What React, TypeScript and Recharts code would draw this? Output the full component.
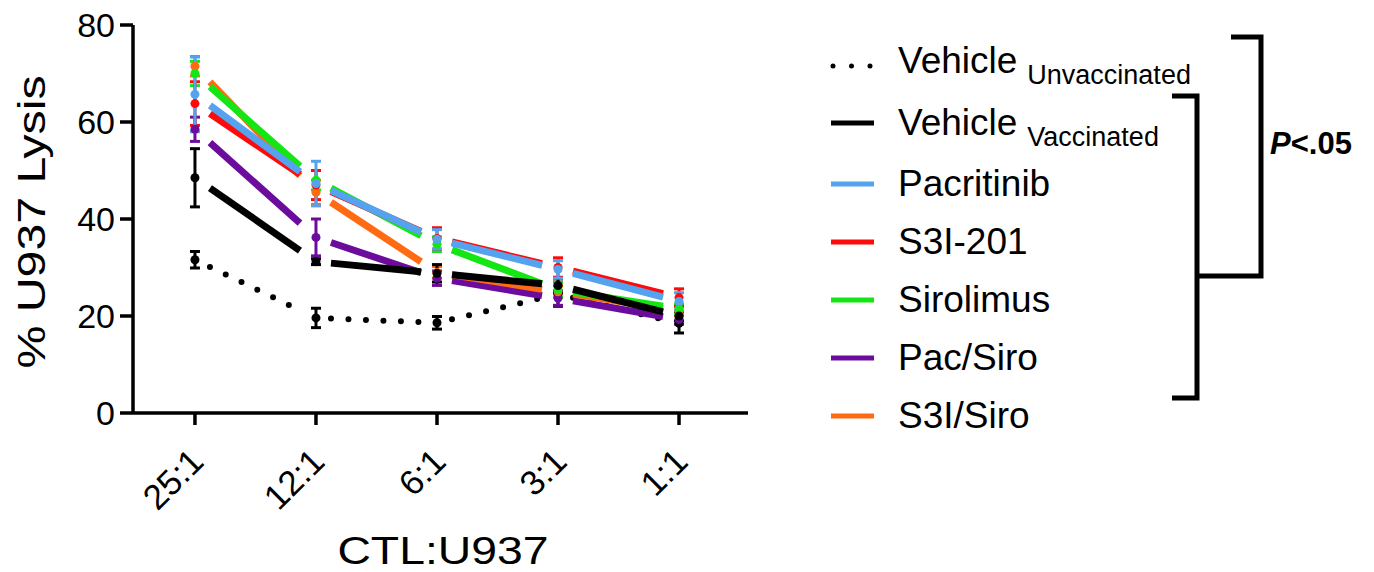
import { LineChart, Line, XAxis, YAxis, ErrorBar } from "recharts";

const FONT = "'Liberation Sans', Arial, Helvetica, sans-serif";

const categories = ["25:1", "12:1", "6:1", "3:1", "1:1"];
const yTicks = [0, 20, 40, 60, 80];

const vehicleUnvaccinated = [31.6, 19.6, 18.6, 24.5, 18.5];
const vehicleUnvaccinatedErr = [1.7, 2, 1.3, 2.5, 2];
const vehicleVaccinated = [48.5, 31.2, 28.8, 26.3, 20];
const vehicleVaccinatedErr = [6, 0.6, 1.8, 1.5, 1];
const pacritinib = [65.7, 47.3, 35.8, 29.6, 23];
const pacritinibErr = [7.7, 4.6, 2, 1.8, 1.8];
const s3i201 = [63.8, 47, 36, 30, 23.8];
const s3i201Err = [4.5, 3, 2.2, 2, 1.8];
const sirolimus = [70, 48, 34.8, 25.4, 21.5];
const sirolimusErr = [2.5, 2, 1.5, 1.5, 1];
const pacSiro = [58.5, 36.2, 27.8, 23.7, 19.3];
const pacSiroErr = [2.5, 3.8, 1.5, 1.5, 1];
const s3iSiro = [71.5, 45.5, 29, 25, 21];
const s3iSiroErr = [2, 2.5, 1.2, 1.2, 1];

const chartData = categories.map((label, i) => ({
  x: i,
  label,
  unvac: vehicleUnvaccinated[i],
  unvacErr: vehicleUnvaccinatedErr[i],
  vac: vehicleVaccinated[i],
  vacErr: vehicleVaccinatedErr[i],
  pac: pacritinib[i],
  pacErr: pacritinibErr[i],
  s3i: s3i201[i],
  s3iErr: s3i201Err[i],
  siro: sirolimus[i],
  siroErr: sirolimusErr[i],
  pacSiro: pacSiro[i],
  pacSiroErr: pacSiroErr[i],
  s3iSiro: s3iSiro[i],
  s3iSiroErr: s3iSiroErr[i],
}));

// drawing order: last one ends up on top
const series = [
  { key: "unvac", color: "#000000", dotted: true },
  { key: "pacSiro", color: "#6c0c9c" },
  { key: "s3iSiro", color: "#ff6a12" },
  { key: "siro", color: "#14e614" },
  { key: "vac", color: "#000000" },
  { key: "s3i", color: "#ff0a0a" },
  { key: "pac", color: "#55a2ee" },
];

const legendRows = [
  { name: "Vehicle", sub: "Unvaccinated", color: "#000000", dotted: true },
  { name: "Vehicle", sub: "Vaccinated", color: "#000000" },
  { name: "Pacritinib", color: "#55a2ee" },
  { name: "S3I-201", color: "#ff0a0a" },
  { name: "Sirolimus", color: "#14e614" },
  { name: "Pac/Siro", color: "#6c0c9c" },
  { name: "S3I/Siro", color: "#ff6a12" },
];

// Prism-style segments: line stops short of each point
const GAP_START = 15;
const GAP_END = 16;

function makeDot(seriesKey: string, color: string, dotted?: boolean) {
  return (props: any) => {
    const { cx, cy, index, points } = props;
    const next = points && points[index + 1];
    let seg = null;
    if (next && cx != null && cy != null) {
      const dx = next.x - cx;
      const dy = next.y - cy;
      const t0 = GAP_START / dx;
      const t1 = 1 - GAP_END / dx;
      seg = (
        <line
          x1={cx + dx * t0}
          y1={cy + dy * t0}
          x2={cx + dx * t1}
          y2={cy + dy * t1}
          stroke={color}
          strokeWidth={dotted ? 6 : 7}
          strokeDasharray={dotted ? "0 17.5" : undefined}
          strokeLinecap={dotted ? "round" : "butt"}
        />
      );
    }
    return (
      <g key={`${seriesKey}-${index}`}>
        {seg}
        <circle cx={cx} cy={cy} r={4.5} fill={color} />
      </g>
    );
  };
}

function XTick({ x, y, payload }: any) {
  return (
    <g transform={`translate(${x + 2},${y + 30})`}>
      <text
        textAnchor="end"
        dy="0.35em"
        transform="rotate(-45)"
        fontSize={35}
        fontFamily={FONT}
        fill="#000"
      >
        {categories[payload.value]}
      </text>
    </g>
  );
}

function Overlay() {
  const baselines = [73, 135, 196, 254, 312, 370, 428];
  return (
    <svg
      width={1374}
      height={572}
      style={{ position: "absolute", left: 0, top: 0, pointerEvents: "none" }}
      fontFamily={FONT}
    >
      <text
        transform="translate(45,222) rotate(-90) scale(1.27,1)"
        textAnchor="middle"
        fontSize={38}
        fill="#000"
      >
        % U937 Lysis
      </text>
      <text
        transform="translate(443,564) scale(1.22,1)"
        textAnchor="middle"
        fontSize={38}
        fill="#000"
      >
        CTL:U937
      </text>

      {legendRows.map((row, i) => {
        const base = baselines[i];
        return (
          <g key={i}>
            {row.dotted ? (
              <line
                x1={833}
                x2={871}
                y1={base - 7}
                y2={base - 7}
                stroke={row.color}
                strokeWidth={5}
                strokeDasharray="0 18.5"
                strokeLinecap="round"
              />
            ) : (
              <line
                x1={831}
                x2={874}
                y1={base - 12}
                y2={base - 12}
                stroke={row.color}
                strokeWidth={5}
              />
            )}
            <text x={898} y={base} fontSize={37} fill="#000">
              {row.name}
              {row.sub && (
                <tspan dx={10} dy={11} fontSize={27}>
                  {row.sub}
                </tspan>
              )}
            </text>
          </g>
        );
      })}

      <g fill="none" stroke="#000" strokeWidth={5}>
        <polyline points="1231,37 1261,37 1261,276 1197,276" />
        <polyline points="1172,96 1197,96 1197,398 1172,398" />
      </g>
      <text x={1270} y={154} fontSize={31} fontWeight="bold" fill="#000">
        <tspan fontStyle="italic">P</tspan>&lt;.05
      </text>
    </svg>
  );
}

export default function App() {
  return (
    <div
      style={{
        position: "relative",
        width: 1374,
        height: 572,
        margin: -8,
        background: "#fff",
        fontFamily: FONT,
      }}
    >
      <LineChart
        width={760}
        height={572}
        data={chartData}
        margin={{ top: 25, right: 12, bottom: 0, left: 0 }}
      >
        <XAxis
          type="number"
          dataKey="x"
          domain={[-0.512, 4.57]}
          ticks={[0, 1, 2, 3, 4]}
          height={159}
          tickSize={12}
          tickMargin={0}
          axisLine={{ stroke: "#000", strokeWidth: 3.5 }}
          tickLine={{ stroke: "#000", strokeWidth: 3.5 }}
          tick={<XTick />}
          interval={0}
        />
        <YAxis
          type="number"
          domain={[0, 80]}
          ticks={yTicks}
          width={133}
          tickSize={13}
          tickMargin={5}
          axisLine={{ stroke: "#000", strokeWidth: 3.5 }}
          tickLine={{ stroke: "#000", strokeWidth: 3.5 }}
          tick={{ fill: "#000", fontSize: 34, fontFamily: FONT }}
        />
        {series.map((s) => (
          <Line
            key={s.key}
            type="linear"
            dataKey={s.key}
            stroke="none"
            strokeWidth={0}
            dot={makeDot(s.key, s.color, s.dotted)}
            activeDot={false}
            isAnimationActive={false}
          >
            <ErrorBar
              dataKey={`${s.key}Err`}
              direction="y"
              width={5}
              stroke={s.color}
              strokeWidth={3}
            />
          </Line>
        ))}
      </LineChart>
      <Overlay />
    </div>
  );
}
